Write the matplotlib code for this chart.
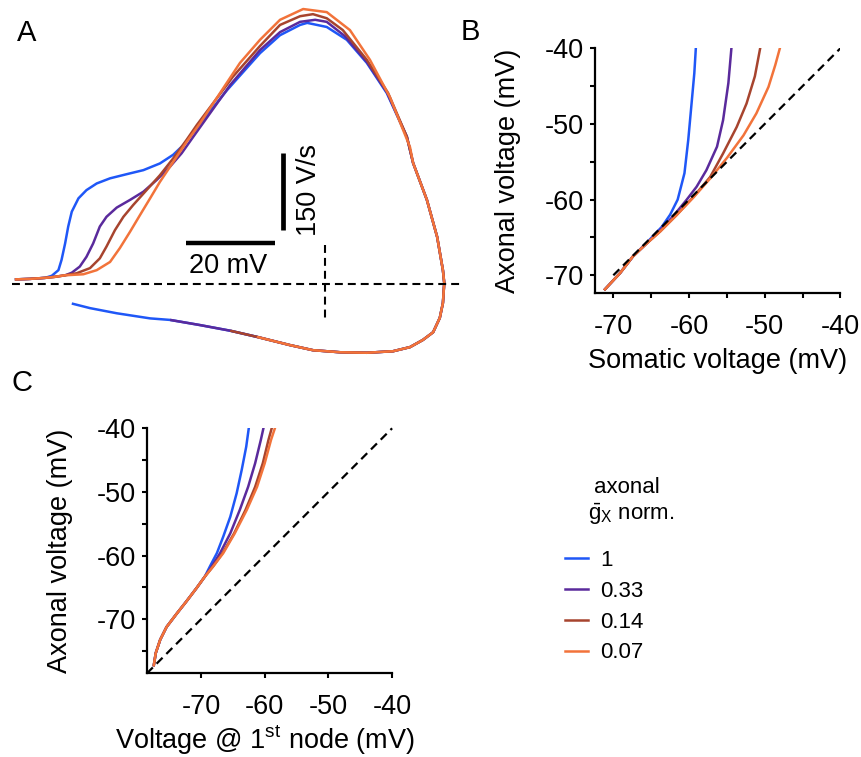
import matplotlib
matplotlib.use("Agg")
import matplotlib.pyplot as plt

plt.rcParams["font.family"] = ["Liberation Sans", "DejaVu Sans"]
plt.rcParams["axes.unicode_minus"] = False
plt.rcParams["mathtext.fontset"] = "custom"
plt.rcParams["mathtext.rm"] = "Liberation Sans"
plt.rcParams["mathtext.it"] = "Liberation Sans:italic"
plt.rcParams["mathtext.bf"] = "Liberation Sans:bold"

# ---------------------------------------------------------------- data
gx_labels = ["1", "0.33", "0.14", "0.07"]
colors = ["#1f57f7", "#5a2a9c", "#a7442e", "#f2733a"]

# Panel A: phase plots (membrane voltage in mV, dV/dt in V/s), rising phase per trace
a_rise_v = {
    "1": [-69.7, -66.3, -62.9, -61.4, -59.9, -59.2, -58.4, -57.7, -56.9, -55.4, -53.6, -51.3,
          -48.3, -44.6, -40.8, -37.1, -34.1, -31.8, -30.0, -22.0, -14.6, -10.1, -5.6, -4.0,
          0.4, 4.9, 9.4, 13.9, 18.4],
    "0.33": [-69.7, -66.3, -62.9, -60.7, -58.4, -56.9, -55.1, -53.6, -52.1, -50.6, -49.1, -46.8,
             -43.8, -40.8, -37.8, -34.8, -32.2, -29.6, -21.3, -14.6, -10.1, -5.6, -2.2, 0.4,
             4.5, 9.4, 13.9, 18.4],
    "0.14": [-69.7, -66.3, -62.9, -60.7, -58.4, -55.8, -52.8, -50.6, -49.1, -47.2, -45.3, -43.1,
             -40.1, -37.1, -34.1, -31.1, -28.8, -20.7, -14.6, -10.1, -5.6, -2.7, 0.4, 4.0,
             9.4, 14.2, 18.4],
    "0.07": [-69.7, -66.3, -62.9, -60.7, -58.4, -54.3, -51.3, -48.3, -46.1, -43.8, -41.6, -39.3,
             -37.1, -34.1, -31.1, -28.1, -19.1, -14.6, -10.1, -4.9, 0.4, 5.6, 10.1, 14.6, 19.1],
}
a_rise_dvdt = {
    "1": [9, 10, 12, 16, 27, 47, 79, 112, 141, 167, 183, 196, 206, 214, 222, 235, 252, 271, 291,
          378, 450, 485, 505, 509, 501, 476, 431, 372, 287],
    "0.33": [9, 10, 12, 14, 17, 22, 34, 53, 79, 112, 131, 149, 164, 180, 203, 229, 255, 287, 388,
             456, 491, 511, 515, 511, 483, 433, 374, 287],
    "0.14": [9, 10, 12, 14, 17, 21, 31, 50, 73, 105, 131, 154, 183, 212, 245, 281, 310, 404, 464,
             505, 522, 526, 518, 495, 437, 372, 287],
    "0.07": [9, 10, 12, 14, 17, 19, 27, 43, 70, 102, 134, 167, 199, 238, 277, 313, 431, 476, 515,
             536, 530, 495, 437, 364, 267],
}
# Shared repolarisation limb and after-hyperpolarisation
a_repol_v = [19.8, 22.9, 25.2, 26.5, 26.8, 26.5, 25.8, 24.3, 22.0, 19.1, 15.3, 9.4, 3.4, -2.7,
             -7.9, -15.3, -21.3, -28.1, -34.8, -39.3, -46.8, -52.8, -56.9]
a_repol_dvdt = [236, 164, 92, 27, 2, -37, -66, -94, -109, -123, -131, -134, -133, -129, -119,
                -103, -91, -80, -70, -67, -57, -47, -38]
# Voltage at which each trace ends on the repolarising limb
a_end_v = {"1": -56.9, "0.33": -34.8, "0.14": -21.3, "0.07": -15.3}

scale_mv = 20     # mV
scale_vs = 150    # V/s

# Panel B: axonal vs somatic voltage (mV)
b_soma = {
    "1": [-71.1, -69.1, -67.4, -65.4, -63.6, -62.5, -61.5, -61.06, -60.6, -60.1, -59.7, -59.3,
          -59.1],
    "0.33": [-71.1, -69.1, -67.4, -65.6, -63.8, -62.1, -60.3, -59.0, -57.7, -56.3, -55.5, -54.8,
             -54.4],
    "0.14": [-71.1, -69.1, -67.4, -65.6, -63.8, -61.6, -59.4, -57.2, -55.5, -53.7, -52.4, -51.3,
             -50.6],
    "0.07": [-71.1, -69.1, -67.4, -65.6, -63.8, -61.6, -59.4, -57.2, -55.0, -52.8, -51.1, -49.5,
             -48.6, -48.0],
}
b_axon = {
    "1": [-71.85, -69.7, -67.5, -65.5, -63.6, -62.0, -60.0, -58.3, -56.5, -52.1, -47.7, -43.3,
          -40.0],
    "0.33": [-71.85, -69.7, -67.5, -65.8, -64.0, -62.2, -60.0, -58.3, -56.1, -53.0, -49.5, -44.6,
             -40.0],
    "0.14": [-71.85, -69.7, -67.5, -65.8, -64.2, -62.0, -59.6, -57.0, -53.9, -50.4, -47.3, -43.7,
             -40.0],
    "0.07": [-71.85, -69.7, -67.5, -65.8, -64.2, -62.0, -59.7, -57.2, -54.5, -51.5, -48.6, -45.1,
             -42.2, -40.0],
}

# Panel C: axonal voltage vs voltage at the first node (mV)
c_node = {
    "1": [-77.4, -77.1, -76.4, -75.4, -73.8, -72.3, -70.7, -69.4, -68.6, -67.5, -66.5, -65.4,
          -64.4, -63.6, -62.9, -62.5],
    "0.33": [-77.4, -77.1, -76.4, -75.4, -73.8, -72.3, -70.7, -69.4, -68.3, -67.0, -65.4, -63.9,
             -62.6, -61.5, -60.6, -60.2],
    "0.14": [-77.4, -77.1, -76.4, -75.4, -73.8, -72.3, -70.7, -69.4, -68.1, -66.6, -64.8, -63.0,
             -61.5, -60.3, -59.4, -58.9],
    "0.07": [-77.4, -77.1, -76.4, -75.4, -73.8, -72.3, -70.7, -69.4, -68.1, -66.5, -64.7, -62.8,
             -61.2, -60.0, -59.0, -58.4],
}
c_axon = {
    "1": [-77.2, -75.3, -73.2, -71.2, -69.1, -67.2, -65.1, -63.3, -61.7, -59.6, -57.0, -53.9,
          -50.2, -46.5, -42.9, -40.0],
    "0.33": [-77.2, -75.3, -73.2, -71.2, -69.1, -67.2, -65.1, -63.3, -61.7, -59.6, -56.5, -52.8,
             -49.2, -45.5, -41.8, -40.0],
    "0.14": [-77.2, -75.3, -73.2, -71.2, -69.1, -67.2, -65.1, -63.3, -61.7, -59.6, -56.5, -52.8,
             -49.2, -45.5, -41.8, -40.0],
    "0.07": [-77.2, -75.3, -73.2, -71.2, -69.1, -67.2, -65.1, -63.3, -61.7, -59.6, -56.5, -52.8,
             -49.2, -45.5, -41.8, -40.0],
}

major_ticks = [-70, -60, -50, -40]

# ---------------------------------------------------------------- figure
W, H = 862, 757
fig = plt.figure(figsize=(W / 100, H / 100), dpi=100)


def add_axes_px(x0, y0, x1, y1):
    return fig.add_axes([x0 / W, 1 - y1 / H, (x1 - x0) / W, (y1 - y0) / H])


LW = 1.8
TICK_FS = 19.5
LABEL_FS = 19.5
DASH = (0, (3.8, 2.4))

# ---- Panel A
axA = add_axes_px(0, 0, 460, 370)
axA.set_xlim(-73.03, 30.34)
axA.set_ylim(-167.6, 553.6)
axA.axis("off")

for lab, col in zip(gx_labels, colors):
    v = list(a_rise_v[lab])
    d = list(a_rise_dvdt[lab])
    for rv, rd in zip(a_repol_v, a_repol_dvdt):
        if rv >= a_end_v[lab]:
            v.append(rv)
            d.append(rd)
    axA.plot(v, d, color=col, lw=LW, solid_joinstyle="round", solid_capstyle="butt")

axA.plot([-70.3, 30.3], [0, 0], color="k", lw=1.5, ls=DASH, zorder=5)
axA.plot([0, 0], [76, -74], color="k", lw=1.5, ls=DASH, zorder=5)

# scale bars
bar_x0, bar_y = -31.2, 80
axA.plot([bar_x0, bar_x0 + scale_mv], [bar_y, bar_y], color="k", lw=3.2,
         solid_capstyle="butt")
vbar_x, vbar_y0 = -9.4, 105
axA.plot([vbar_x, vbar_x], [vbar_y0, vbar_y0 + scale_vs], color="k", lw=3.4,
         solid_capstyle="butt")
axA.text(-21.8, 21, f"{scale_mv} mV", ha="center", va="baseline", fontsize=LABEL_FS)
axA.text(-2.0, 183, f"{scale_vs} V/s", ha="center", va="baseline", rotation=90,
         rotation_mode="anchor", fontsize=LABEL_FS)


def style_axes(ax, xminor, yminor):
    for s in ("top", "right"):
        ax.spines[s].set_visible(False)
    for s in ("left", "bottom"):
        ax.spines[s].set_linewidth(1.6)
    ax.set_xticks(major_ticks)
    ax.set_yticks(major_ticks)
    ax.set_xticks(xminor, minor=True)
    ax.set_yticks(yminor, minor=True)
    ax.set_xticklabels([str(t) for t in major_ticks])
    ax.set_yticklabels([str(t) for t in major_ticks])
    ax.tick_params(which="both", direction="out", length=3.8, width=1.5, labelsize=TICK_FS)
    ax.tick_params(axis="x", which="both", pad=11)
    ax.tick_params(axis="y", which="both", pad=4)


# ---- Panel B
axB = add_axes_px(595, 48.3, 840.4, 293.3)
axB.set_xlim(-72.42, -40)
axB.set_ylim(-72.38, -40)
for lab, col in zip(gx_labels, colors):
    axB.plot(b_soma[lab], b_axon[lab], color=col, lw=LW, solid_joinstyle="round")
axB.plot([-70, -40], [-70, -40], color="k", lw=1.6, ls=DASH, zorder=5)
style_axes(axB, [-65, -55, -45], [-65, -55, -45])
axB.set_xlabel("Somatic voltage (mV)", fontsize=LABEL_FS)
axB.set_ylabel("Axonal voltage (mV)", fontsize=LABEL_FS)
axB.xaxis.set_label_coords(0.5, -0.225)
axB.yaxis.set_label_coords(-0.30, 0.5)

# ---- Panel C
axC = add_axes_px(146.7, 428.3, 392.1, 673.3)
axC.set_xlim(-78.52, -40)
axC.set_ylim(-78.48, -40)
handles = []
for lab, col in zip(gx_labels, colors):
    (ln,) = axC.plot(c_node[lab], c_axon[lab], color=col, lw=LW, label=lab,
                     solid_joinstyle="round")
    handles.append(ln)
axC.plot([-78.5, -40], [-78.5, -40], color="k", lw=1.6, ls=DASH, zorder=5, clip_on=False)
style_axes(axC, [], [-75, -65, -55, -45])
axC.set_xlabel(r"Voltage @ 1$^{\mathrm{st}}$ node (mV)", fontsize=LABEL_FS)
axC.set_ylabel("Axonal voltage (mV)", fontsize=LABEL_FS)
axC.xaxis.set_label_coords(0.482, -0.205)
axC.yaxis.set_label_coords(-0.30, 0.5)

# ---- legend
fig.text(627 / W, 1 - 493 / H, "axonal", ha="center", va="baseline", fontsize=16)
fig.text(631 / W, 1 - 520 / H, r"$\bar{\mathrm{g}}_{\mathrm{X}}$ norm.", ha="center",
         va="baseline", fontsize=16)
fig.legend(handles=handles, labels=gx_labels, loc="upper left",
           bbox_to_anchor=(565 / W, 1 - 550 / H), frameon=False, borderpad=0,
           borderaxespad=0, handlelength=1.04, handletextpad=0.55, labelspacing=0.44,
           fontsize=16)

# ---- panel letters
fig.text(17 / W, 1 - 41 / H, "A", fontsize=21, va="baseline")
fig.text(461 / W, 1 - 40 / H, "B", fontsize=21, va="baseline")
fig.text(12 / W, 1 - 391 / H, "C", fontsize=21, va="baseline")

fig.savefig("out.png", dpi=100)
